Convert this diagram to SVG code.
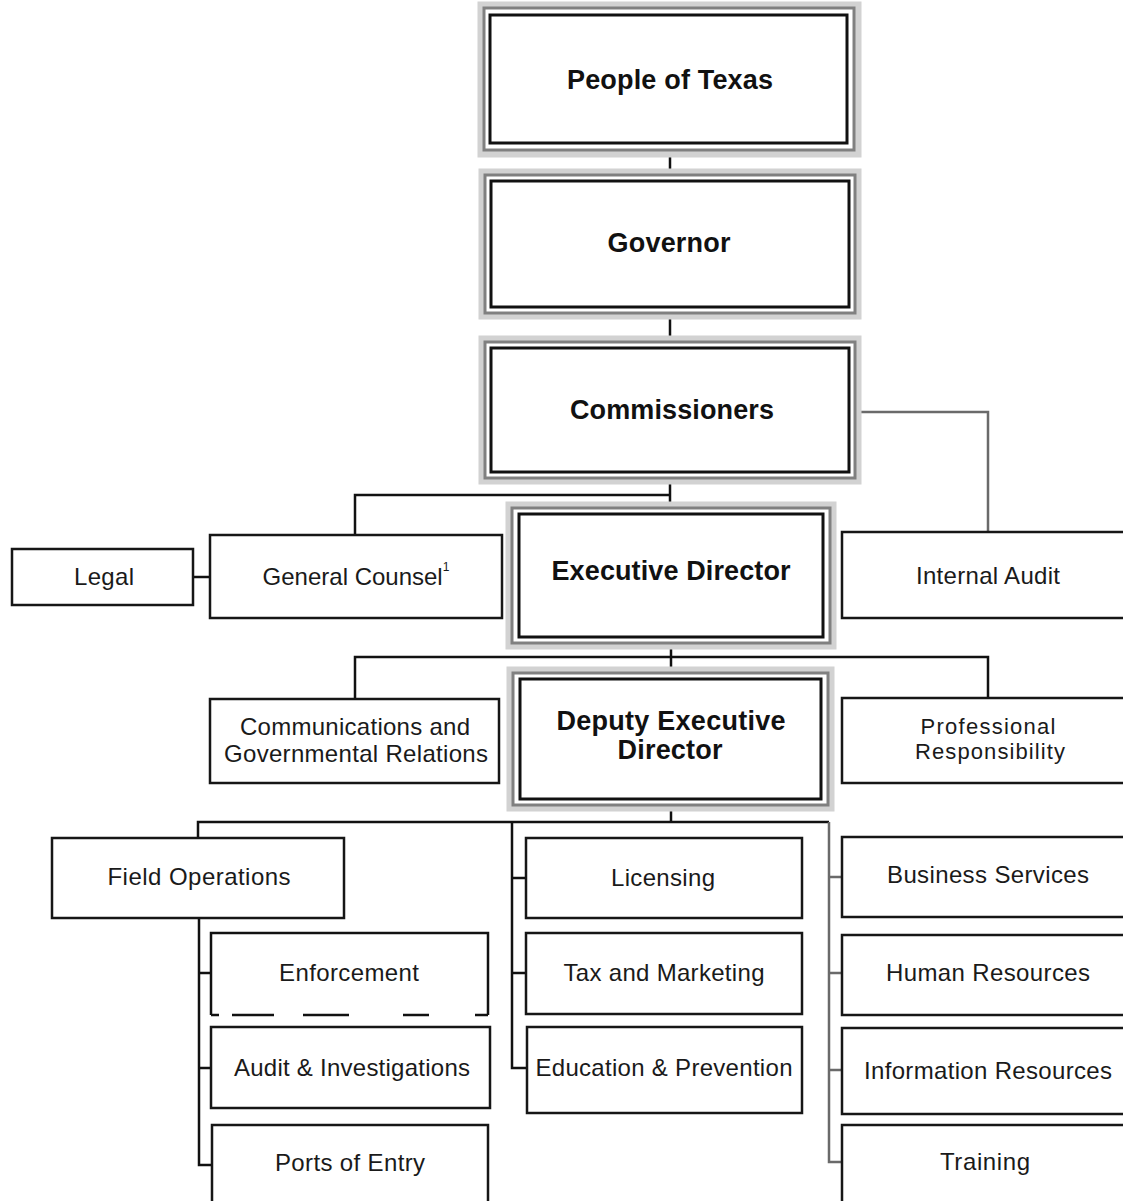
<svg xmlns="http://www.w3.org/2000/svg" width="1123" height="1201" viewBox="0 0 1123 1201">
  <style>
    .bg { fill: #ffffff; }
    .box { fill: #ffffff; stroke: #161616; stroke-width: 2.5; }
    .halo { fill: none; stroke: #d2d2d2; stroke-width: 7; }
    .outer { fill: #ffffff; stroke: #808080; stroke-width: 3; }
    .inner { fill: none; stroke: #111111; stroke-width: 3; }
    .t { font-family: "Liberation Sans", Arial, sans-serif; font-size: 24px; fill: #1a1a1a; text-anchor: middle; dominant-baseline: central; }
    .tb { font-weight: bold; font-size: 27px; fill: #111111; }
    .sm { font-size: 22px; }
    .conn { fill: none; stroke: #111111; stroke-width: 2.5; }
    .gray { stroke: #6a6a6a; }
  </style>
  <rect class="bg" x="0" y="0" width="1123" height="1201"/>

  <!-- connectors -->
  <g id="connectors">
    <path class="conn" d="M670 150 V175"/>
    <path class="conn" d="M670 313 V342"/>
    <path class="conn" d="M670 478 V508"/>
    <path class="conn" d="M670 495 H355 V535"/>
    <path class="conn gray" d="M855 412 H988 V532"/>
    <path class="conn" d="M193 577 H210"/>
    <path class="conn" d="M671 643 V673"/>
    <path class="conn" d="M355 699 V657 H988 V698"/>
    <path class="conn" d="M671 805 V822"/>
    <path class="conn" d="M198 838 V822 H829"/>
    <path class="conn" d="M199 918 V1165 H211 M199 973 H211 M199 1068 H211"/>
    <path class="conn" d="M512 822 V1068 H526 M512 878 H526 M512 973 H526"/>
    <path class="conn gray" d="M829 822 V1162 H842 M829 877 H842 M829 973 H842 M829 1070 H842"/>
  </g>

  <!-- top chain: double-bordered boxes -->
  <g id="people-of-texas">
    <rect class="halo" x="481" y="5" width="377" height="149"/>
    <rect class="outer" x="484" y="8" width="370" height="142"/>
    <rect class="inner" x="490" y="15" width="357" height="128"/>
    <text class="t tb" x="670" y="80" textLength="206">People of Texas</text>
  </g>
  <g id="governor">
    <rect class="halo" x="482" y="172" width="376" height="144"/>
    <rect class="outer" x="485" y="175" width="370" height="138"/>
    <rect class="inner" x="491" y="181" width="358" height="126"/>
    <text class="t tb" x="669" y="243" textLength="123">Governor</text>
  </g>
  <g id="commissioners">
    <rect class="halo" x="482" y="339" width="376" height="142"/>
    <rect class="outer" x="485" y="342" width="370" height="136"/>
    <rect class="inner" x="491" y="348" width="358" height="124"/>
    <text class="t tb" x="672" y="410" textLength="204">Commissioners</text>
  </g>

  <!-- second tier -->
  <g id="legal">
    <rect class="box" x="12" y="549" width="181" height="56"/>
    <text class="t" x="104" y="576" textLength="60">Legal</text>
  </g>
  <g id="general-counsel">
    <rect class="box" x="210" y="535" width="292" height="83"/>
    <text class="t" x="356" y="576">General Counsel<tspan font-size="12" dy="-9">1</tspan></text>
  </g>
  <g id="executive-director">
    <rect class="halo" x="509" y="505" width="324" height="141"/>
    <rect class="outer" x="512" y="508" width="318" height="135"/>
    <rect class="inner" x="519" y="514" width="304" height="123"/>
    <text class="t tb" x="671" y="571" textLength="239">Executive Director</text>
  </g>
  <g id="internal-audit">
    <rect class="box" x="842" y="532" width="290" height="86"/>
    <text class="t" x="988" y="575" textLength="144">Internal Audit</text>
  </g>

  <!-- third tier -->
  <g id="communications">
    <rect class="box" x="210" y="699" width="289" height="84"/>
    <text class="t" x="355" y="726" textLength="230">Communications and</text>
    <text class="t" x="356" y="753" textLength="264">Governmental Relations</text>
  </g>
  <g id="deputy-executive-director">
    <rect class="halo" x="510" y="670" width="321" height="138"/>
    <rect class="outer" x="513" y="673" width="315" height="132"/>
    <rect class="inner" x="520" y="679" width="301" height="120"/>
    <text class="t tb" x="671" y="721" textLength="229">Deputy Executive</text>
    <text class="t tb" x="670" y="750" textLength="105">Director</text>
  </g>
  <g id="professional-responsibility">
    <rect class="box" x="842" y="698" width="290" height="85"/>
    <text class="t sm" x="988" y="726" textLength="135">Professional</text>
    <text class="t sm" x="990" y="751" textLength="150">Responsibility</text>
  </g>

  <!-- field operations column -->
  <g id="field-operations">
    <rect class="box" x="52" y="838" width="292" height="80"/>
    <text class="t" x="199" y="876" textLength="183">Field Operations</text>
  </g>
  <g id="enforcement">
    <rect x="211" y="933" width="277" height="82" fill="#ffffff"/>
    <path class="conn" d="M211 1015 V933 H488 V1015"/>
    <path class="conn" d="M211 1015 H219 M232 1015 H274 M303 1015 H349 M403 1015 H429 M475 1015 H488" stroke="#444444" stroke-width="1.6"/>
    <text class="t" x="349" y="972" textLength="140">Enforcement</text>
  </g>
  <g id="audit-investigations">
    <rect class="box" x="211" y="1027" width="279" height="81"/>
    <text class="t" x="352" y="1067" textLength="236">Audit &amp; Investigations</text>
  </g>
  <g id="ports-of-entry">
    <rect class="box" x="212" y="1125" width="276" height="90"/>
    <text class="t" x="350" y="1162" textLength="150">Ports of Entry</text>
  </g>

  <!-- middle column -->
  <g id="licensing">
    <rect class="box" x="526" y="838" width="276" height="80"/>
    <text class="t" x="663" y="877" textLength="104">Licensing</text>
  </g>
  <g id="tax-marketing">
    <rect class="box" x="526" y="933" width="276" height="81"/>
    <text class="t" x="664" y="972" textLength="201">Tax and Marketing</text>
  </g>
  <g id="education-prevention">
    <rect class="box" x="527" y="1027" width="275" height="86"/>
    <text class="t" x="664" y="1067" textLength="257">Education &amp; Prevention</text>
  </g>

  <!-- right column -->
  <g id="business-services">
    <rect class="box" x="842" y="837" width="290" height="80"/>
    <text class="t" x="988" y="874" textLength="202">Business Services</text>
  </g>
  <g id="human-resources">
    <rect class="box" x="842" y="935" width="290" height="80"/>
    <text class="t" x="988" y="972" textLength="204">Human Resources</text>
  </g>
  <g id="information-resources">
    <rect class="box" x="842" y="1028" width="290" height="86"/>
    <text class="t" x="988" y="1070" textLength="248">Information Resources</text>
  </g>
  <g id="training">
    <rect class="box" x="842" y="1125" width="290" height="90"/>
    <text class="t" x="985" y="1161" textLength="90">Training</text>
  </g>
</svg>
